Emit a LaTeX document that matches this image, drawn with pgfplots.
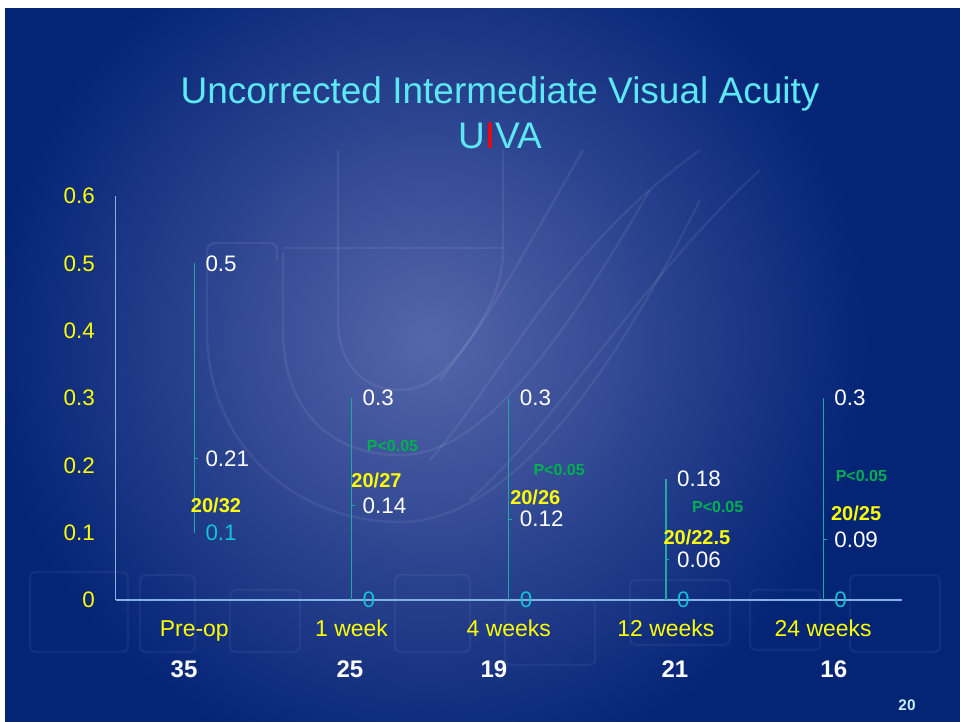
\documentclass[border=0pt]{standalone}
\usepackage{pgfplots}
\pgfplotsset{compat=1.18}
\usepackage{fontspec}
\setmainfont{Liberation Sans}
\definecolor{bgdark}{RGB}{4,36,118}
\definecolor{bglight}{RGB}{86,102,170}
\definecolor{titlec}{RGB}{92,232,245}
\definecolor{tickc}{RGB}{255,255,0}
\definecolor{linec}{RGB}{30,168,168}
\definecolor{axisc}{RGB}{130,178,228}
\definecolor{lowc}{RGB}{20,195,215}
\definecolor{pgreen}{RGB}{0,176,80}
\definecolor{pagec}{RGB}{200,240,255}
\newcommand{\lab}{\fontsize{16.8pt}{20pt}\selectfont}
\begin{document}
\begin{tikzpicture}
\useasboundingbox (0,0) rectangle (720pt,540.75pt);
\fill[bgdark] (-5pt,-5pt) rectangle (725pt,545pt);
\begin{scope}
\clip (0pt,-10pt) rectangle (730pt,550pt);
\shade[inner color=bglight, outer color=bgdark] (322pt,285pt) circle (330pt);
\end{scope}
% faint watermark (px coordinates, y downwards)
\begin{scope}[x=0.75pt, y=-0.75pt, shift={(0pt,540.75pt)}, draw=white, opacity=0.07, line width=1.8pt]
\draw[rounded corners=6pt] (207,330) -- (207,243) -- (277,243) -- (277,260);
\draw (207,330) .. controls (207,450) and (300,522) .. (400,522) .. controls (500,522) and (600,400) .. (700,200);
\draw (283,253) -- (283,330) .. controls (283,410) and (330,455) .. (400,455) .. controls (470,455) and (540,380) .. (650,190);
\draw (283,248) -- (503,248);
\draw (338,150) -- (338,320) .. controls (338,360) and (360,390) .. (400,390) .. controls (450,390) and (480,330) .. (583,150);
\draw (503,150) -- (503,250) .. controls (503,300) and (470,340) .. (440,380);
\draw (430,460) .. controls (500,380) and (560,250) .. (700,150);
\draw (470,500) .. controls (560,420) and (640,280) .. (760,170);
\end{scope}
\begin{scope}[x=0.75pt, y=-0.75pt, shift={(0pt,540.75pt)}, draw=white, opacity=0.05, line width=1.8pt]
\draw[rounded corners=4pt] (30,572) rectangle (128,652);
\draw[rounded corners=4pt] (140,575) rectangle (195,652);
\draw[rounded corners=4pt] (230,590) rectangle (300,652);
\draw[rounded corners=4pt] (395,575) rectangle (470,652);
\draw[rounded corners=4pt] (505,600) rectangle (595,665);
\draw[rounded corners=4pt] (630,580) rectangle (730,645);
\draw[rounded corners=4pt] (750,590) rectangle (820,650);
\draw[rounded corners=4pt] (850,575) rectangle (940,652);
\end{scope}
% white margins
\fill[white] (0,534.75pt) rectangle (720pt,541pt);
\fill[white] (-1pt,-1pt) rectangle (3.75pt,541pt);
\node[anchor=base, inner sep=0pt, text=titlec, font=\fontsize{27.75pt}{33pt}\selectfont] at (375pt,462.75pt) {Uncorrected Intermediate Visual Acuity};
\node[anchor=base, inner sep=0pt, text=titlec, font=\fontsize{27.75pt}{33pt}\selectfont] at (375pt,429pt) {U\textcolor{red}{I}VA};
\node[anchor=center, inner sep=0pt, text=pagec, font=\fontsize{11.5pt}{13pt}\selectfont\bfseries] at (680.25pt,12pt) {20};
\begin{axis}[
  at={(86.8pt,90.75pt)}, anchor=south west,
  scale only axis, width=589.5pt, height=303pt,
  xmin=-0.5, xmax=4.5, ymin=0, ymax=0.6,
  axis x line*=bottom, axis y line*=left,
  axis line style={draw=axisc, line width=0.8pt},
  major tick length=0pt,
  clip=false,
  xtick={0,1,2,3,4},
  xticklabels={Pre-op,1 week,4 weeks,12 weeks,24 weeks},
  ytick={0,0.1,0.2,0.3,0.4,0.5,0.6},
  yticklabels={0,0.1,0.2,0.3,0.4,0.5,0.6},
  /pgf/number format/assume math mode=true,
  yticklabel style={text=tickc, anchor=east, inner sep=0pt, xshift=-15.5pt, font=\lab},
  xticklabel style={text=tickc, anchor=base, inner sep=0pt, yshift=-27.5pt, font=\fontsize{17.2pt}{20pt}\selectfont},
]
% high-low lines
\addplot[linec, line width=0.9pt] coordinates {(0,0.1) (0,0.5)};
\addplot[linec, line width=0.9pt] coordinates {(1,0) (1,0.3)};
\addplot[linec, line width=0.9pt] coordinates {(2,0) (2,0.3)};
\addplot[linec, line width=0.9pt] coordinates {(3,0) (3,0.18)};
\addplot[linec, line width=0.9pt] coordinates {(4,0) (4,0.3)};
% close ticks
\addplot[linec, line width=0.9pt] coordinates {(0,0.21) (0.022,0.21)};
\addplot[linec, line width=0.9pt] coordinates {(1,0.14) (1.022,0.14)};
\addplot[linec, line width=0.9pt] coordinates {(2,0.12) (2.022,0.12)};
\addplot[linec, line width=0.9pt] coordinates {(3,0.06) (3.022,0.06)};
\addplot[linec, line width=0.9pt] coordinates {(4,0.09) (4.022,0.09)};
% high and close value labels
\addplot[draw=none, mark=none, nodes near coords, point meta=explicit symbolic,
  nodes near coords style={anchor=west, inner sep=0pt, xshift=8.2pt, text=white, font=\lab}]
  table[meta=label] {
x y label
0 0.5 0.5
1 0.3 0.3
2 0.3 0.3
3 0.18 0.18
4 0.3 0.3
0 0.21 0.21
1 0.14 0.14
2 0.12 0.12
3 0.06 0.06
4 0.09 0.09
};
% low value labels
\addplot[draw=none, mark=none, nodes near coords, point meta=explicit symbolic,
  nodes near coords style={anchor=west, inner sep=0pt, xshift=8.2pt, text=lowc, font=\lab}]
  table[meta=label] {
x y label
0 0.1 0.1
1 0 0
2 0 0
3 0 0
4 0 0
};
% Snellen equivalents
\begin{scope}[every node/.style={anchor=west, inner sep=0pt, text=tickc, font=\fontsize{15pt}{17pt}\selectfont\bfseries}]
\node at (axis cs:-0.023,0.140) {20/32};
\node at (axis cs:0.998,0.1775) {20/27};
\node at (axis cs:2.008,0.1525) {20/26};
\node at (axis cs:2.983,0.0936) {20/22.5};
\node at (axis cs:4.049,0.129) {20/25};
\end{scope}
% p values
\begin{scope}[every node/.style={anchor=west, inner sep=0pt, text=pgreen, font=\fontsize{12pt}{14pt}\selectfont\bfseries}]
\node at (axis cs:1.096,0.228) {P<0.05};
\node at (axis cs:2.156,0.193) {P<0.05};
\node at (axis cs:3.165,0.1374) {P<0.05};
\node at (axis cs:4.079,0.184) {P<0.05};
\end{scope}
% number of eyes
\begin{scope}[every node/.style={anchor=center, inner sep=0pt, text=white, font=\fontsize{18pt}{20pt}\selectfont\bfseries}]
\node at (axis cs:-0.0655,-0.1032) {35};
\node at (axis cs:0.99,-0.1032) {25};
\node at (axis cs:1.906,-0.1032) {19};
\node at (axis cs:3.057,-0.1032) {21};
\node at (axis cs:4.068,-0.1032) {16};
\end{scope}
\end{axis}
\end{tikzpicture}
\end{document}
